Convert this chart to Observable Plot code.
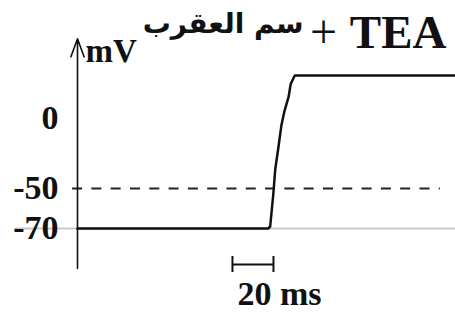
<!DOCTYPE html>
<html>
<head>
<meta charset="utf-8">
<script src="https://cdn.jsdelivr.net/npm/d3@7"></script>
<script src="https://cdn.jsdelivr.net/npm/@observablehq/plot@0.6"></script>
<style>
  html, body { margin: 0; padding: 0; background: #fff; }
  #chart svg { display: block; background: #fff; }
</style>
</head>
<body>
<div id="chart"></div>
<script>
// Membrane potential trace (time in ms, voltage in mV)
const timeMs  = [0, 93, 94, 95.5, 96.5, 98, 99.5, 101, 103, 104, 106, 184.4];
const voltage = [-70, -70, -69, -53, -36, -21, -5, 5, 15, 24, 30, 30];
// Tick labels on the mV axis
const yTicks = [0, -50, -70];
// Reference levels
const restingLevel = -70;     // grey resting line
const thresholdLevel = -50;   // dashed threshold line
// Scale bar
const scaleBarStart = 75.6;
const scaleBarLength = 20;
const scaleBarLabel = "20 ms";
// Texts
const axisUnit = "mV";
const titleArabic = "سم العقرب";
const titlePlus = "+";
const titleLatin = "TEA";

const trace = timeMs.map((t, i) => ({t, v: voltage[i]}));
const serif = "'Liberation Serif', 'Times New Roman', serif";
// schematic axis: the part below threshold is drawn stretched
const stretch = v => v >= -50 ? v : -50 + (v + 50) * 1.416;

const chart = Plot.plot({
  width: 455,
  height: 313,
  marginLeft: 77,
  marginTop: 0,
  marginRight: 0,
  marginBottom: 0,
  x: {domain: [0, 184.4], range: [77, 455], axis: null},
  y: {transform: stretch, domain: [stretch(-70), stretch(30)], range: [228, 75], axis: null},
  marks: [
    // grey resting line
    Plot.ruleY([restingLevel], {x1: -30.7, x2: 184.4, stroke: "#c8c8c8", strokeWidth: 2}),
    // dashed threshold line
    Plot.ruleY([thresholdLevel], {x1: -2.4, x2: 177, stroke: "#222", strokeWidth: 2.2, strokeDasharray: "10,9.3"}),
    // y axis with arrow
    Plot.arrow([{}], {x1: 0, x2: 0, y1: -90, y2: 56, stroke: "#111", strokeWidth: 1.6, headLength: 18, headAngle: 40}),
    // tick labels
    Plot.text(yTicks, {x: 0, y: d => d, text: d => String(d), dx: -19, textAnchor: "end", lineAnchor: "middle",
      fontSize: 34, fontWeight: "bold", fontFamily: serif, fill: "#111"}),
    // the trace
    Plot.line(trace, {x: "t", y: "v", stroke: "#111", strokeWidth: 2.5, curve: "linear"}),
    // scale bar
    Plot.ruleY([-88], {x1: scaleBarStart, x2: scaleBarStart + scaleBarLength, stroke: "#111", strokeWidth: 2}),
    Plot.ruleX([scaleBarStart, scaleBarStart + scaleBarLength], {y1: -84, y2: -92, stroke: "#111", strokeWidth: 2}),
    Plot.text([scaleBarLabel], {x: scaleBarStart, y: -88, dx: 5, dy: 30, textAnchor: "start", lineAnchor: "middle",
      fontSize: 34, fontWeight: "bold", fontFamily: serif, fill: "#111"}),
    // axis unit
    Plot.text([axisUnit], {frameAnchor: "top-left", dx: 8, dy: 51, textAnchor: "start", lineAnchor: "middle",
      fontSize: 33, fontWeight: "bold", fontFamily: serif, fill: "#111"}),
    // title
    Plot.text([titleLatin], {frameAnchor: "top-right", dx: -9, dy: 32, textAnchor: "end", lineAnchor: "middle",
      fontSize: 47, fontWeight: "bold", fontFamily: serif, fill: "#111"}),
    Plot.text([titlePlus], {frameAnchor: "top-left", dx: 246, dy: 32, textAnchor: "middle", lineAnchor: "middle",
      fontSize: 48, fontFamily: serif, fill: "#111"}),
    Plot.text([titleArabic], {frameAnchor: "top-left", dx: 226, dy: 24, textAnchor: "end", lineAnchor: "middle",
      fontSize: 28, fontWeight: "bold", fontFamily: "'DejaVu Sans', sans-serif", fill: "#111"})
  ]
});
document.getElementById("chart").appendChild(chart);
</script>
</body>
</html>
